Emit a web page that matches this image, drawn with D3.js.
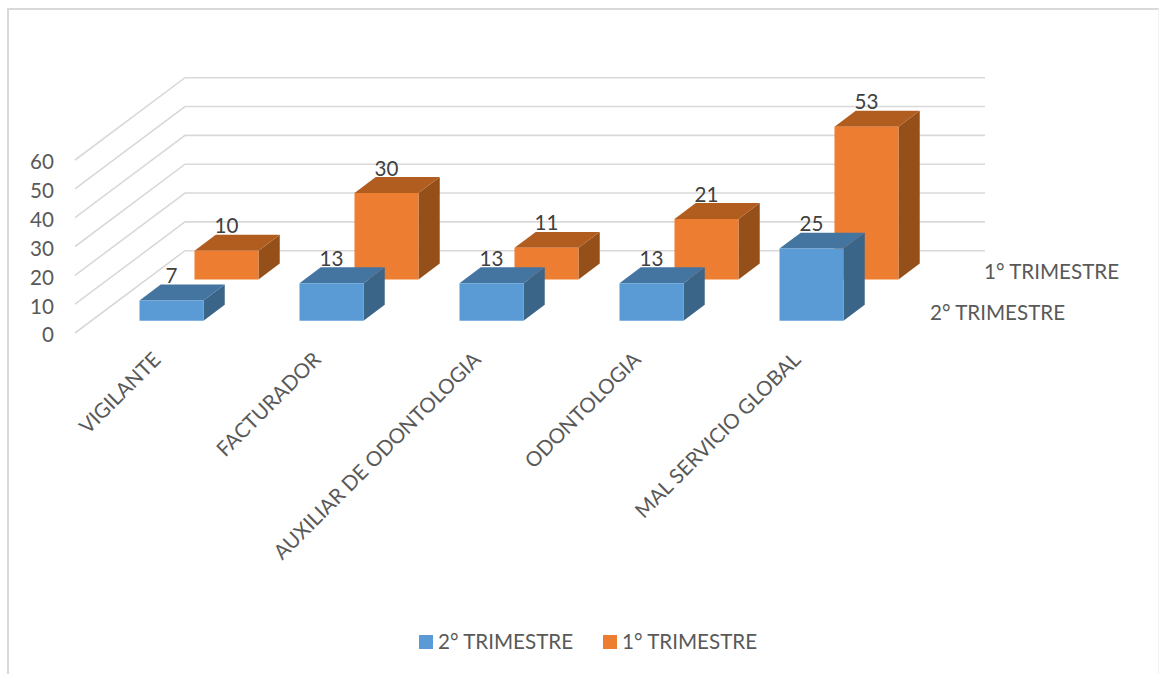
<!DOCTYPE html>
<html><head><meta charset="utf-8">
<script src="https://cdn.jsdelivr.net/npm/d3@7"></script>
<style>html,body{margin:0;padding:0;background:#fff}svg{display:block}text{font-family:Lato,"Open Sans",sans-serif}</style>
</head><body><svg id="c" width="1159" height="674"></svg>
<script>
const categories = ["VIGILANTE","FACTURADOR","AUXILIAR DE ODONTOLOGIA","ODONTOLOGIA","MAL SERVICIO GLOBAL"];
const seriesNames = ["1° TRIMESTRE","2° TRIMESTRE"];
const trimestre1 = [10,30,11,21,53];
const trimestre2 = [7,13,13,13,25];
const yTicks = [0,10,20,30,40,50,60];
const colors = {"2° TRIMESTRE":["#5b9bd5","#4474a0","#3a6488"],"1° TRIMESTRE":["#ed7d31","#b25d20","#955019"]};

const svg = d3.select("#c");
// frame
svg.append("path").attr("d","M8,674V9H1159").attr("fill","none").attr("stroke","#d9d9d9").attr("stroke-width",2);
svg.append("path").attr("d","M1158.5,9V674").attr("fill","none").attr("stroke","#f2f2f2").attr("stroke-width",1);

const x = d3.scaleBand().domain(categories).range([75,875]);
const y = d3.scaleLinear().domain([0,60]).range([0,-173]);
const dX = d3.scaleLinear().domain([0,1]).range([0,110]);
const dY = d3.scaleLinear().domain([0,1]).range([333,250.7]);
const P = (px,v,d)=>[px+dX(d), dY(d)+y(v)];
const line = d3.line();

// gridlines
yTicks.forEach(t=>{
  svg.append("path").attr("d",line([P(75,t,0),P(75,t,1),P(875,t,1)]))
    .attr("fill","none").attr("stroke","#d9d9d9").attr("stroke-width",1.6);
  const [tx,ty]=P(75,t,0);
  svg.append("text").attr("x",54).attr("y",ty+2).attr("dy","0.36em").attr("text-anchor","end")
    .attr("font-size",20.6).attr("fill","#595959").text(t);
});

// series (back first)
const series=[{name:seriesNames[0],vals:trimestre1,d0:.65},{name:seriesNames[1],vals:trimestre2,d0:.15}];
const depth=.193;
const barW=x.bandwidth()*.4, off=x.bandwidth()*.3;
series.forEach(s=>{
  const [cFront,cTop,cSide]=colors[s.name];
  categories.forEach((c,i)=>{
    const v=s.vals[i], l=x(c)+off, r=l+barW, d0=s.d0, d1=d0+depth;
    const g=svg.append("g");
    g.append("path").attr("d",line([P(r,0,d0),P(r,0,d1),P(r,v,d1),P(r,v,d0)])+"Z").attr("fill",cSide);
    g.append("path").attr("d",line([P(l,v,d0),P(r,v,d0),P(r,v,d1),P(l,v,d1)])+"Z").attr("fill",cTop);
    g.append("path").attr("d",line([P(l,0,d0),P(r,0,d0),P(r,v,d0),P(l,v,d0)])+"Z").attr("fill",cFront);
  });
});
// data labels on top of all bars
series.forEach(s=>{
  categories.forEach((c,i)=>{
    const v=s.vals[i], l=x(c)+off, r=l+barW;
    const [px]=P((l+r)/2,v,s.d0);
    const [,py]=P((l+r)/2,v,s.d0+depth);
    svg.append("text").attr("x",px).attr("y",py-1.5).attr("text-anchor","middle")
      .attr("font-size",20.6).attr("fill","#404040").text(v);
  });
});
// category labels
categories.forEach(c=>{
  const cx=x(c)+x.bandwidth()/2;
  svg.append("text").attr("transform",`translate(${cx+7},361) rotate(-45)`).attr("text-anchor","end")
    .attr("font-size",20.6).attr("fill","#595959").text(c);
});
// series labels on depth axis
svg.append("text").attr("x",984).attr("y",279).attr("font-size",20.6).attr("fill","#595959").text(seriesNames[0]);
svg.append("text").attr("x",930).attr("y",320).attr("font-size",20.6).attr("fill","#595959").text(seriesNames[1]);
// legend
const leg=[["2° TRIMESTRE",419,438],["1° TRIMESTRE",603,622]];
leg.forEach(([n,a,b])=>{
  svg.append("rect").attr("x",a).attr("y",635).attr("width",14).attr("height",14).attr("fill",colors[n][0]);
  svg.append("text").attr("x",b).attr("y",649).attr("font-size",20.6).attr("fill","#595959").text(n);
});
</script></body></html>
